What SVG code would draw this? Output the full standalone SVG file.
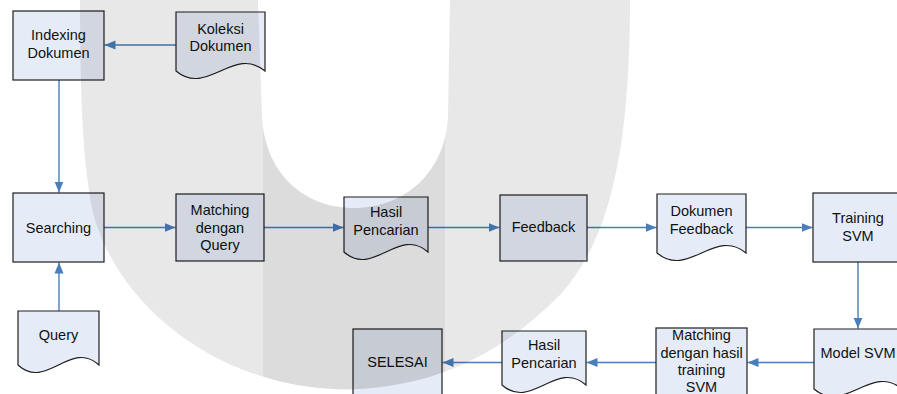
<svg xmlns="http://www.w3.org/2000/svg" width="897" height="394" viewBox="0 0 897 394">
  <style>
    .box { fill: #e6ecf7; stroke: #1e1e1e; stroke-width: 1.2; }
    .lbl { font-family: "Liberation Sans", Arial, sans-serif; font-size: 14.5px; fill: #111; text-anchor: middle; }
    .link { fill: none; stroke: #4a7ebb; stroke-width: 1.4; marker-end: url(#head); }
    .wm { fill: #000; }
  </style>
  <defs>
    <marker id="head" markerUnits="userSpaceOnUse" markerWidth="12" markerHeight="10" refX="11" refY="5" orient="auto">
      <path d="M0,0.5 L11,5 L0,9.5 Z" fill="#4a7ebb"/>
    </marker>
    <clipPath id="uShape">
      <path clip-rule="evenodd" d="M80,0 L630,0 C630,150 610,240 560,295 C515,340 465,372 400,384 C370,390 340,391 310,387 C200,372 120,300 95,220 C85,180 80,120 80,0 Z M258,0 L450,0 L448,115 C446,172 405,208 354,208 C303,208 264,172 262,115 Z"/>
    </clipPath>
  </defs>

  <rect width="897" height="394" fill="#fff"/>

  <!-- connectors -->
  <g id="connectors">
    <line class="link" x1="176" y1="45" x2="104.5" y2="45"/>
    <line class="link" x1="59" y1="80" x2="59" y2="192.5"/>
    <line class="link" x1="59" y1="311" x2="59" y2="262.5"/>
    <line class="link" x1="104" y1="227.5" x2="175.5" y2="227.5"/>
    <line class="link" x1="264" y1="227.5" x2="343.5" y2="227.5"/>
    <line class="link" x1="428" y1="227.5" x2="499.5" y2="227.5"/>
    <line class="link" x1="587" y1="227.5" x2="656.5" y2="227.5"/>
    <line class="link" x1="746" y1="227.5" x2="812.5" y2="227.5"/>
    <line class="link" x1="858" y1="262" x2="858" y2="328.5"/>
    <line class="link" x1="814" y1="362.5" x2="747.5" y2="362.5"/>
    <line class="link" x1="656" y1="362.5" x2="586.5" y2="362.5"/>
    <line class="link" x1="502" y1="362.5" x2="442.5" y2="362.5"/>
  </g>

  <!-- process boxes and documents -->
  <g id="indexing">
    <rect class="box" x="13" y="11" width="91" height="69"/>
    <text class="lbl" x="58.5" y="40">Indexing</text>
    <text class="lbl" x="58.5" y="57.5">Dokumen</text>
  </g>
  <g id="koleksi">
    <path class="box" d="M176,12 H265 V71 C233.9,45 207.2,97 176,71 Z"/>
    <text class="lbl" x="220.5" y="33.5">Koleksi</text>
    <text class="lbl" x="220.5" y="51">Dokumen</text>
  </g>
  <g id="searching">
    <rect class="box" x="13" y="193" width="91" height="69"/>
    <text class="lbl" x="58.5" y="232.5">Searching</text>
  </g>
  <g id="query">
    <path class="box" d="M18,311 H99 V365 C70.7,339 46.4,391 18,365 Z"/>
    <text class="lbl" x="58.5" y="339.5">Query</text>
  </g>
  <g id="matching-query">
    <rect class="box" x="176" y="194" width="88" height="67"/>
    <text class="lbl" x="220" y="215">Matching</text>
    <text class="lbl" x="220" y="232.5">dengan</text>
    <text class="lbl" x="220" y="250">Query</text>
  </g>
  <g id="hasil-pencarian-1">
    <path class="box" d="M344,197 H428 V252 C398.6,226 373.4,278 344,252 Z"/>
    <text class="lbl" x="386" y="216.5">Hasil</text>
    <text class="lbl" x="386" y="234.5">Pencarian</text>
  </g>
  <g id="feedback">
    <rect class="box" x="500" y="195" width="87" height="66"/>
    <text class="lbl" x="543.5" y="231.5">Feedback</text>
  </g>
  <g id="dokumen-feedback">
    <path class="box" d="M657,194 H746 V253 C714.9,227 688.2,279 657,253 Z"/>
    <text class="lbl" x="701.5" y="216">Dokumen</text>
    <text class="lbl" x="701.5" y="234">Feedback</text>
  </g>
  <g id="training-svm">
    <rect class="box" x="813" y="193" width="90" height="69"/>
    <text class="lbl" x="858" y="223.3">Training</text>
    <text class="lbl" x="858" y="241">SVM</text>
  </g>
  <g id="model-svm">
    <path class="box" d="M814,329 H902 V389 C871.2,363 844.8,415 814,389 Z"/>
    <text class="lbl" x="858" y="358.3">Model SVM</text>
  </g>
  <g id="matching-hasil">
    <rect class="box" x="656" y="328" width="91" height="72"/>
    <text class="lbl" x="701.5" y="340">Matching</text>
    <text class="lbl" x="701.5" y="357.7">dengan hasil</text>
    <text class="lbl" x="701.5" y="375">training</text>
    <text class="lbl" x="701.5" y="392.3">SVM</text>
  </g>
  <g id="hasil-pencarian-2">
    <path class="box" d="M502,331 H586 V385 C556.6,359 531.4,411 502,385 Z"/>
    <text class="lbl" x="544" y="350">Hasil</text>
    <text class="lbl" x="544" y="367.7">Pencarian</text>
  </g>
  <g id="selesai">
    <rect class="box" x="353" y="329" width="89" height="67"/>
    <text class="lbl" x="397.5" y="367.3">SELESAI</text>
  </g>

  <!-- translucent U mark laid over the chart -->
  <g id="mark" clip-path="url(#uShape)">
    <rect class="wm" x="0" y="0" width="897" height="394" fill-opacity="0.09"/>
    <rect class="wm" x="263" y="0" width="182" height="394" fill-opacity="0.052"/>
  </g>
</svg>
